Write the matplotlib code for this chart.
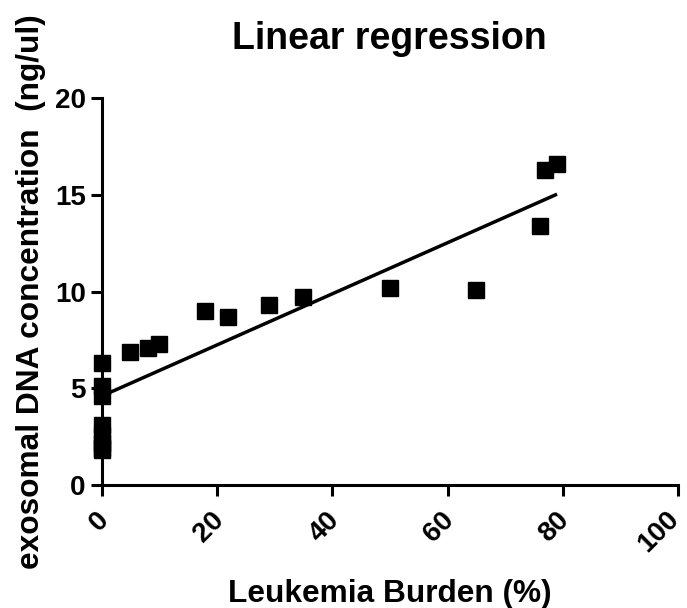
import numpy as np
import matplotlib
matplotlib.use('Agg')
import matplotlib.pyplot as plt
import matplotlib.transforms as mtransforms

# data
burden = [0, 0, 0, 0, 0, 0, 0, 0, 5, 8, 10, 18, 22, 29, 35, 50, 65, 76, 77, 79]
conc = [6.3, 5.1, 4.6, 3.1, 2.6, 2.2, 1.9, 1.8, 6.9, 7.1, 7.3, 9.0, 8.7, 9.3, 9.7, 10.2, 10.1, 13.4, 16.3, 16.6]
fit_intercept = 4.6
fit_slope = 0.132
fit_range = [0, 79]

plt.rcParams['font.family'] = ['Liberation Sans', 'DejaVu Sans']
plt.rcParams['font.weight'] = 'bold'

fig = plt.figure(figsize=(6.87, 6.08), dpi=100)
ax = fig.add_axes([0.148, 0.202, 0.839, 0.637])

xs = np.array(fit_range)
ax.plot(xs, fit_intercept + fit_slope * xs, color='black', lw=2.5, solid_capstyle='butt')
ax.plot(burden, conc, 's', color='black', ms=12, clip_on=False, zorder=5)

ax.set_xlim(0, 100)
ax.set_ylim(0, 20)
ax.set_xticks([0, 20, 40, 60, 80, 100])
ax.set_yticks([0, 5, 10, 15, 20])

for s in ['top', 'right']:
    ax.spines[s].set_visible(False)
for s in ['left', 'bottom']:
    ax.spines[s].set_linewidth(2.2)

ax.tick_params(width=2.2, length=8, labelsize=20, direction='out')
ax.tick_params(axis='x', pad=14)
# 标签稍微往右挪一点，最后一个(100)往左一点，不然出界
xlabs = ax.get_xticklabels()
for i, lab in enumerate(xlabs):
    dx = 2 if i < len(xlabs) - 1 else -2
    shift = mtransforms.ScaledTranslation(dx / 72, 0, fig.dpi_scale_trans)
    lab.set_rotation(45)
    lab.set_ha('right')
    lab.set_va('center')
    lab.set_rotation_mode('anchor')
    lab.set_transform(lab.get_transform() + shift)

ax.set_title('Linear regression', fontsize=27, fontweight='bold', pad=35)
ax.set_xlabel('Leukemia Burden (%)', fontsize=22.8, fontweight='bold', labelpad=15)
ax.set_ylabel('exosomal DNA concentration  (ng/ul)', fontsize=22.8, fontweight='bold', labelpad=6)

plt.savefig('out.png', dpi=100)
